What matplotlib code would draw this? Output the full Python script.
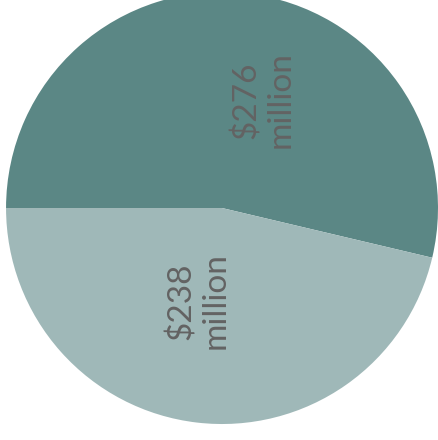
import matplotlib
matplotlib.use("Agg")
import matplotlib.pyplot as plt

labels = ["$276\nmillion", "$238\nmillion"]
values = [276, 238]
colors = ["#5b8785", "#9fb8b8"]
label_pos = [(0.19, 0.50), (-0.11, -0.43)]

fig = plt.figure(figsize=(4.38, 4.40), dpi=100)
ax = fig.add_axes([0, 0, 1, 1])
ax.pie(values, colors=colors, startangle=180, counterclock=False, radius=1.0,
       wedgeprops=dict(linewidth=0))
for txt, (x, y) in zip(labels, label_pos):
    ax.text(x, y, txt, rotation=90, ha="center", va="center", fontsize=24,
            color="#636363", family="Lato", fontweight="normal",
            multialignment="center", linespacing=1.15)
ax.set_xlim(-1.028, 1.0)
ax.set_ylim(-1.074, 0.963)
ax.set_aspect("auto")
ax.axis("off")
fig.savefig("out.png", dpi=100)
